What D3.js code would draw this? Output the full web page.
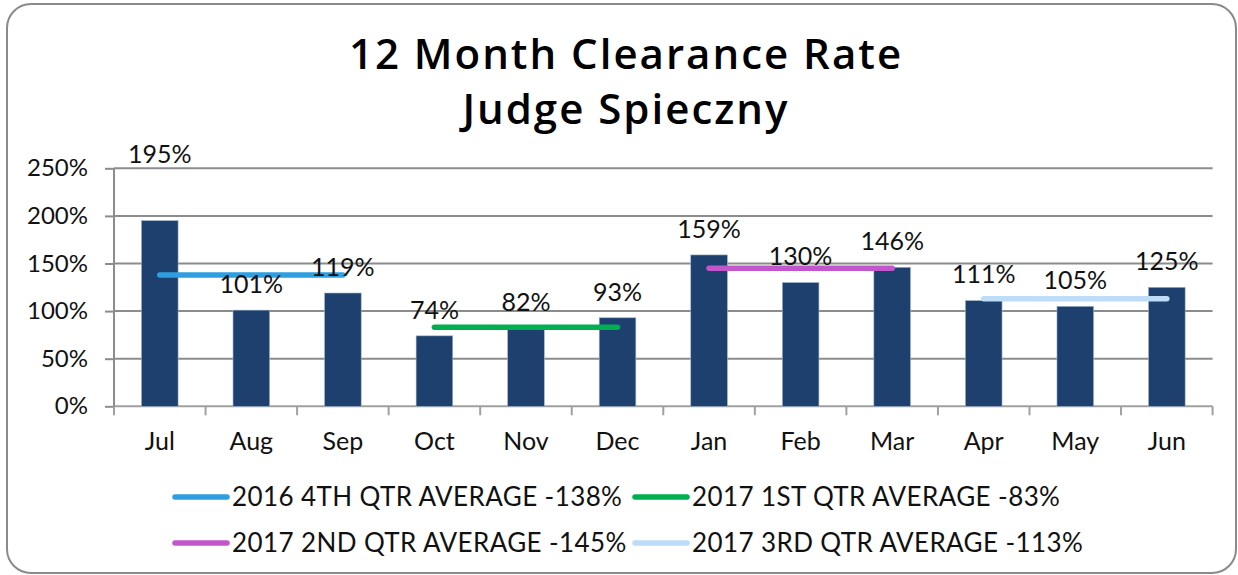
<!DOCTYPE html>
<html>
<head>
<meta charset="utf-8">
<script src="https://cdn.jsdelivr.net/npm/d3@7/dist/d3.min.js"></script>
<style>
  html, body { margin: 0; padding: 0; background: #fff; }
  svg { display: block; }
  .lbl { font-family: "Lato", "Open Sans", sans-serif; fill: #111; }
  .ttl { font-family: "Open Sans", "Noto Sans", sans-serif; font-weight: 600; fill: #000; }
</style>
</head>
<body>
<svg id="chart" width="1238" height="575"></svg>
<script>
// Monthly clearance rates (percent)
const months = ["Jul", "Aug", "Sep", "Oct", "Nov", "Dec", "Jan", "Feb", "Mar", "Apr", "May", "Jun"];
const rates = [195, 101, 119, 74, 82, 93, 159, 130, 146, 111, 105, 125];

// Quarter averages, each spanning three months
const quarterNames = ["2016 4TH QTR AVERAGE -138%", "2017 1ST QTR AVERAGE -83%", "2017 2ND QTR AVERAGE -145%", "2017 3RD QTR AVERAGE -113%"];
const quarterValues = [138, 83, 145, 113];
const quarterStart = ["Jul", "Oct", "Jan", "Apr"];
const quarterEnd = ["Sep", "Dec", "Mar", "Jun"];
const quarterColors = ["#2f9fe0", "#00b050", "#c257cc", "#bcdcf8"];

const yTicks = [0, 50, 100, 150, 200, 250];
const titleLines = ["12 Month Clearance Rate", "Judge Spieczny"];

const svg = d3.select("#chart");

// outer rounded frame
svg.append("rect")
  .attr("x", 7).attr("y", 4).attr("width", 1229).attr("height", 569)
  .attr("rx", 24).attr("ry", 24)
  .attr("fill", "#fff").attr("stroke", "#8a8a8a").attr("stroke-width", 2);

// title
svg.append("g").selectAll("text").data(titleLines).join("text")
  .attr("class", "ttl")
  .attr("x", 626).attr("y", (d, i) => 69 + i * 55)
  .attr("text-anchor", "middle")
  .attr("font-size", 42)
  .attr("letter-spacing", 2)
  .text(d => d);

const plot = { left: 114, right: 1212.6, top: 168.3, bottom: 406.3 };

const x = d3.scaleBand().domain(months)
  .range([plot.left, plot.right]).paddingInner(0.6).paddingOuter(0.3);
const y = d3.scaleLinear().domain([0, 250]).range([plot.bottom, plot.top]);
const xc = m => x(m) + x.bandwidth() / 2;

// horizontal gridlines
svg.append("g").selectAll("line").data(yTicks).join("line")
  .attr("x1", plot.left).attr("x2", plot.right)
  .attr("y1", d => y(d)).attr("y2", d => y(d))
  .attr("stroke", d => d === 0 ? "#a0a0a0" : "#8c8c8c").attr("stroke-width", 2);

// y axis
const yAxis = d3.axisLeft(y).tickValues(yTicks).tickFormat(d => d + "%").tickSize(9).tickPadding(17);
const gy = svg.append("g").attr("transform", `translate(${plot.left},0)`).call(yAxis);
gy.select(".domain").attr("stroke", "#8c8c8c").attr("stroke-width", 2).attr("d", `M0,${plot.top}V${plot.bottom}`);
gy.selectAll(".tick line").attr("stroke", "#8c8c8c").attr("stroke-width", 2);
gy.selectAll(".tick text").attr("class", "lbl").attr("font-size", 24).attr("fill", "#111");

// x axis: ticks on category boundaries
const boundaries = d3.range(months.length + 1).map(i => plot.left + i * x.step());
svg.append("g").selectAll("line").data(boundaries).join("line")
  .attr("x1", d => d).attr("x2", d => d)
  .attr("y1", plot.bottom).attr("y2", plot.bottom + 9)
  .attr("stroke", "#a0a0a0").attr("stroke-width", 2);
svg.append("g").selectAll("text").data(months).join("text")
  .attr("class", "lbl")
  .attr("x", d => xc(d)).attr("y", 441)
  .attr("dy", "0.35em")
  .attr("text-anchor", "middle").attr("font-size", 25)
  .text(d => d);

// bars
svg.append("g").selectAll("rect").data(rates).join("rect")
  .attr("x", (d, i) => x(months[i]))
  .attr("y", d => y(d))
  .attr("width", x.bandwidth())
  .attr("height", d => y(0) - y(d))
  .attr("fill", "#1e406f")
  .attr("stroke", "#9fb3cc").attr("stroke-width", 0.6);

// quarter average lines
svg.append("g").selectAll("line").data(quarterValues).join("line")
  .attr("x1", (d, i) => xc(quarterStart[i]))
  .attr("x2", (d, i) => xc(quarterEnd[i]))
  .attr("y1", d => y(d)).attr("y2", d => y(d))
  .attr("stroke", (d, i) => quarterColors[i])
  .attr("stroke-width", 5.5).attr("stroke-linecap", "round");

// value labels above bars
svg.append("g").selectAll("text").data(rates).join("text")
  .attr("class", "lbl")
  .attr("x", (d, i) => xc(months[i]))
  .attr("y", (d, i) => y(d) - (i === 0 ? 66 : 26))
  .attr("dy", "0.35em")
  .attr("text-anchor", "middle").attr("font-size", 25)
  .text(d => d + "%");

// legend, two rows of two
const legendX = [172, 632];
const legendY = [497, 543];
const lg = svg.append("g").selectAll("g").data(quarterNames).join("g")
  .attr("transform", (d, i) => `translate(${legendX[i % 2]},${legendY[Math.floor(i / 2)]})`);
lg.append("line")
  .attr("x1", 3).attr("x2", 55).attr("y1", 0).attr("y2", 0)
  .attr("stroke", (d, i) => quarterColors[i])
  .attr("stroke-width", 5.5).attr("stroke-linecap", "round");
lg.append("text")
  .attr("class", "lbl")
  .attr("x", 60).attr("dy", "0.35em").attr("font-size", 26)
  .attr("letter-spacing", 0.4)
  .text(d => d);
</script>
</body>
</html>
